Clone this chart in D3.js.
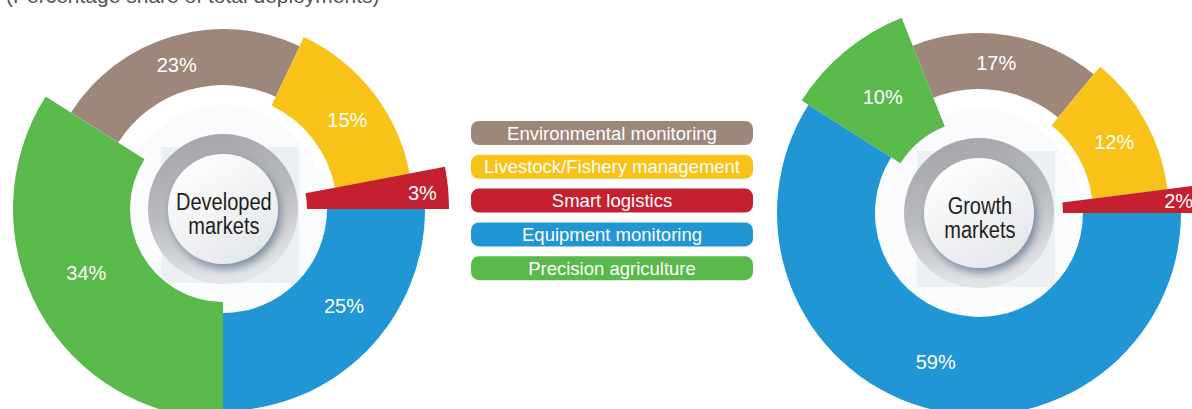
<!DOCTYPE html>
<html>
<head>
<meta charset="utf-8">
<script src="https://cdn.jsdelivr.net/npm/d3@7/dist/d3.min.js"></script>
<style>
  html, body { margin: 0; padding: 0; background: #ffffff; }
  svg { display: block; }
  text { font-family: "Liberation Sans", Arial, Helvetica, sans-serif; }
</style>
</head>
<body>
<svg id="chart" width="1192" height="409"></svg>
<script>
// Segments, in legend order
const categories = [
  "Environmental monitoring",
  "Livestock/Fishery management",
  "Smart logistics",
  "Equipment monitoring",
  "Precision agriculture"
];
// Share of total deployments (%), same order as categories
const developedValues = [23, 15, 3, 25, 34];
const growthValues    = [17, 12, 2, 59, 10];
// Titles shown in the centre of each ring
const developedTitle = ["Developed", "markets"];
const growthTitle    = ["Growth", "markets"];
const subtitle = "(Percentage share of total deployments)";

// Drawing order around the ring, clockwise from 3 o'clock
const sliceOrder = [3, 4, 0, 1, 2];

// Per-category look: colour and ring thickness
const colors      = ["#9d877a", "#f8c219", "#c4202f", "#2196d4", "#5ab94b"];
const innerRadius = [124, 114, 84, 104, 93];
const outerRadius = [180, 190, 226, 202, 210];
const labelRadius = [151, 153, 200, 155, 151];
// Where along each slice its label sits (0 = start angle, 1 = end angle)
const developedLabelAt = [0.48, 0.54, 0.57, 0.43, 0.53];
const growthLabelAt    = [0.46, 0.52, 0.50, 0.50, 0.50];

const svg = d3.select("#chart");
const defs = svg.append("defs");

// Grey bezel gradient
const ringGrad = defs.append("linearGradient")
  .attr("id", "ringGrad").attr("x1", 0).attr("y1", 0).attr("x2", 0.25).attr("y2", 1);
ringGrad.append("stop").attr("offset", "0%").attr("stop-color", "#a0a2a5");
ringGrad.append("stop").attr("offset", "55%").attr("stop-color", "#b9bbbe");
ringGrad.append("stop").attr("offset", "100%").attr("stop-color", "#e2e4e7");

// Button face gradient
const faceGrad = defs.append("linearGradient")
  .attr("id", "faceGrad").attr("x1", 0.2).attr("y1", 0).attr("x2", 0.8).attr("y2", 1);
faceGrad.append("stop").attr("offset", "0%").attr("stop-color", "#ffffff");
faceGrad.append("stop").attr("offset", "100%").attr("stop-color", "#e3e6ea");

// Soft bluish shadow under the button face
const shadow = defs.append("filter").attr("id", "faceShadow")
  .attr("x", "-30%").attr("y", "-30%").attr("width", "160%").attr("height", "160%");
shadow.append("feDropShadow")
  .attr("dx", 3).attr("dy", 5).attr("stdDeviation", 4)
  .attr("flood-color", "#4d607a").attr("flood-opacity", 0.65);

// Subtitle, running off the top edge
svg.append("text")
  .attr("x", 6).attr("y", 2.5)
  .attr("font-size", 21).attr("fill", "#555555")
  .text(subtitle);

const pie = d3.pie()
  .sort(null)
  .startAngle(Math.PI / 2)
  .endAngle(Math.PI / 2 + 2 * Math.PI);

const arc = d3.arc()
  .innerRadius(d => innerRadius[d.data])
  .outerRadius(d => outerRadius[d.data]);

function drawDonut(cx, cy, values, title, labelAt) {
  const g = svg.append("g").attr("transform", `translate(${cx},${cy})`);

  // pale hole behind the centre
  g.append("circle").attr("r", 104).attr("fill", "#fafbfc");

  // square backdrop of the centre button
  g.append("rect")
    .attr("x", -62).attr("y", -62).attr("width", 138).attr("height", 136)
    .attr("fill", "#edf0f3");

  const arcs = pie.value(i => values[i])(sliceOrder);

  g.selectAll("path.slice")
    .data(arcs)
    .join("path")
    .attr("class", "slice")
    .attr("d", arc)
    .attr("fill", d => colors[d.data]);

  g.selectAll("text.pct")
    .data(arcs)
    .join("text")
    .attr("class", "pct")
    .attr("transform", d => {
      const f = labelAt[d.data];
      const a = d.startAngle + (d.endAngle - d.startAngle) * f;
      const r = labelRadius[d.data];
      return `translate(${r * Math.sin(a)},${-r * Math.cos(a)})`;
    })
    .attr("text-anchor", "middle")
    .attr("dy", "0.36em")
    .attr("font-size", 20)
    .attr("fill", "#ffffff")
    .text(d => `${values[d.data]}%`);

  // bezel and button
  g.append("circle").attr("r", 75).attr("fill", "url(#ringGrad)");
  g.append("circle").attr("r", 55).attr("fill", "url(#faceGrad)")
    .attr("filter", "url(#faceShadow)");

  const t = g.append("g").attr("transform", "scale(0.87,1)");
  t.selectAll("text")
    .data(title)
    .join("text")
    .attr("x", 1)
    .attr("y", (d, i) => 1 + i * 24)
    .attr("text-anchor", "middle")
    .attr("font-size", 23)
    .attr("fill", "#231f20")
    .text(d => d);
}

drawDonut(223, 209, developedValues, developedTitle, developedLabelAt);
drawDonut(979, 213, growthValues, growthTitle, growthLabelAt);

// Legend pills
const legend = svg.append("g").attr("transform", "translate(471,121)");
const item = legend.selectAll("g")
  .data(categories)
  .join("g")
  .attr("transform", (d, i) => `translate(0,${i * 33.8})`);
item.append("rect")
  .attr("width", 282).attr("height", 24).attr("rx", 8).attr("ry", 8)
  .attr("fill", (d, i) => colors[i]);
item.append("text")
  .attr("x", 141).attr("y", 12)
  .attr("dy", "0.36em")
  .attr("text-anchor", "middle")
  .attr("font-size", 18.5)
  .attr("fill", "#ffffff")
  .text(d => d);
</script>
</body>
</html>
